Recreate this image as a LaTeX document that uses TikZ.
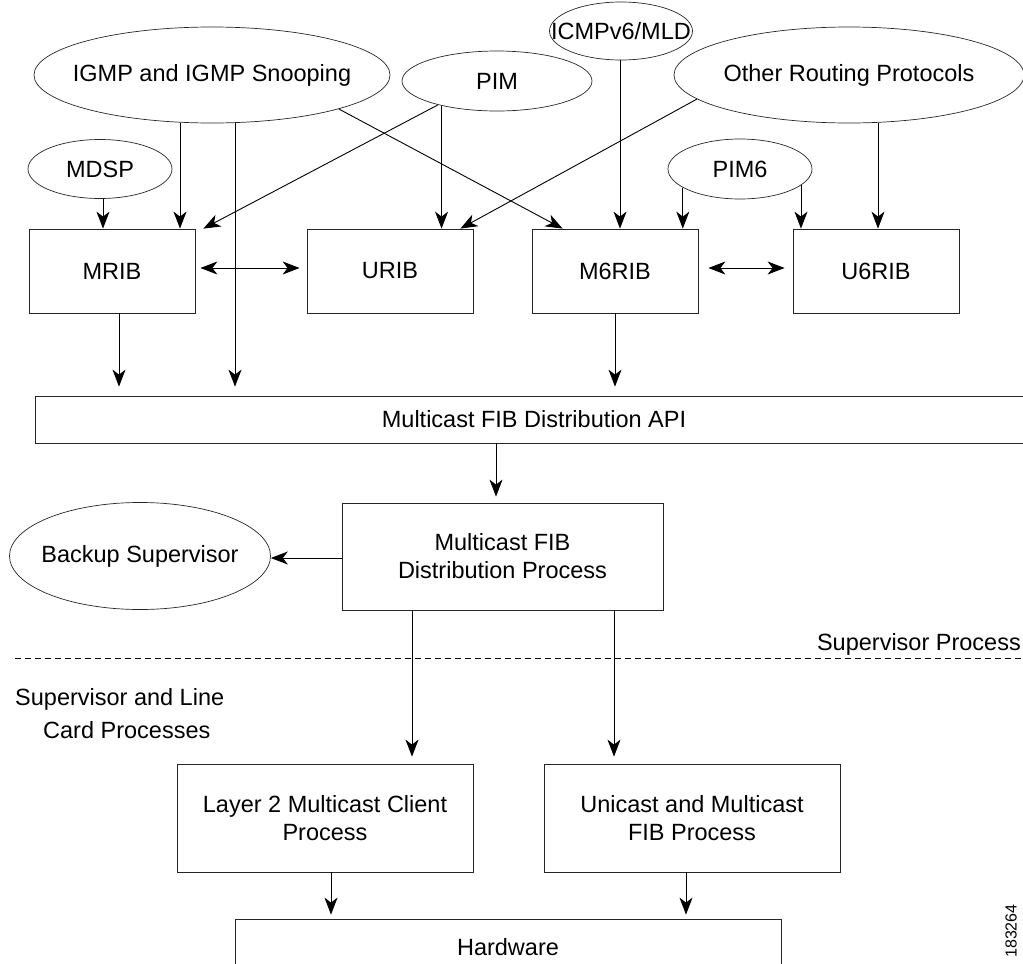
\documentclass[tikz,border=0pt]{standalone}
\usepackage{fontspec}
\setmainfont{Liberation Sans}
\usetikzlibrary{shapes.geometric,arrows.meta,calc}
\begin{document}
\begin{tikzpicture}[x=1pt,y=-1pt,
  font=\fontsize{23.5}{28}\selectfont,
  box/.style={draw=black!85,line width=0.8pt,rectangle,inner sep=0pt,align=center},
  ell/.style={draw=black!85,line width=0.7pt,ellipse,inner sep=0pt},
  tip/.tip={Stealth[length=17pt,width=13pt,inset=5pt]},
  arr/.style={line width=0.9pt,-tip},
  darr/.style={line width=0.9pt,tip-tip},
  lbl/.style={inner sep=0pt}
]
\useasboundingbox (0,0) rectangle (1023,964);

% ellipses
\node[ell,minimum width=356pt,minimum height=96pt] (igmp) at (212,75) {\makebox[0pt]{IGMP and IGMP Snooping}};
\node[ell,minimum width=190pt,minimum height=60pt] (pim) at (497,81) {\makebox[0pt]{PIM}};
\node[ell,minimum width=143pt,minimum height=58pt] (icmp) at (621,31) {\makebox[0pt]{ICMPv6/MLD}};
\node[ell,minimum width=350pt,minimum height=96pt] (other) at (849,75) {\makebox[0pt]{Other Routing Protocols}};
\node[ell,minimum width=144pt,minimum height=59pt] (mdsp) at (100,169) {\makebox[0pt]{MDSP}};
\node[ell,minimum width=144pt,minimum height=60pt] (pimsix) at (740,169) {\makebox[0pt]{PIM6}};
\node[ell,minimum width=261pt,minimum height=107pt] (backup) at (140,556) {\makebox[0pt]{Backup Supervisor}};

% boxes
\node[box,minimum width=166pt,minimum height=84pt] (mrib) at (112,271) {MRIB};
\node[box,minimum width=166pt,minimum height=84pt] (urib) at (390,271) {URIB};
\node[box,minimum width=166pt,minimum height=84pt] (msixrib) at (615,271) {M6RIB};
\node[box,minimum width=166pt,minimum height=84pt] (usixrib) at (876,271) {U6RIB};
\node[box,minimum width=998pt,minimum height=47pt] (api) at (534,419.5) {Multicast FIB Distribution API};
\node[box,minimum width=321pt,minimum height=107pt] (proc) at (502.5,556.5) {Multicast FIB\\Distribution Process};
\node[box,minimum width=296pt,minimum height=108pt] (ltwo) at (325,818) {Layer 2 Multicast Client\\Process};
\node[box,minimum width=296pt,minimum height=108pt] (ufib) at (692,818) {Unicast and Multicast\\FIB Process};
\node[box,minimum width=546pt,minimum height=56pt] (hw) at (508,947) {Hardware};

% labels
\node[lbl,anchor=base east] (supproc) at (1021,650) {Supervisor Process};
\node[lbl,anchor=base west] (supline) at (15,705) {Supervisor and Line};
\node[lbl,anchor=base west] (cardproc) at (43,738) {Card Processes};
\node[lbl,rotate=90,font=\fontsize{16}{18}\selectfont] (figid) at (1011,931) {183264};

% dashed separator
\coordinate (dl) at (15,658);
\coordinate (dr) at (1023,658);
\draw[line width=0.8pt,dash pattern=on 6pt off 4pt] (dl) -- (dr);

% arrows into MRIB
\draw[arr] ([xshift=3pt]mdsp.south) -- ([xshift=3pt]mdsp.south |- mrib.north);
\draw[arr] ([xshift=-32pt]igmp.south) -- ([xshift=-32pt]igmp.south |- mrib.north);
\draw[arr] (pim.202) -- ([xshift=8pt]mrib.north east);
% IGMP straight to API
\draw[arr,shorten >=9pt] ([xshift=23pt]igmp.south) -- ([xshift=23pt]igmp.south |- api.north);
% into URIB
\draw[arr] (pim.204.6) -- (pim.204.6 |- urib.north);
\draw[arr] (other.189.65) -- ([xshift=-13pt]urib.north east);
% into M6RIB
\draw[arr] (igmp.-15.5) -- ([xshift=31pt]msixrib.north west);
\draw[arr] ([xshift=-1pt]icmp.south) -- ([xshift=-1pt]icmp.south |- msixrib.north);
\draw[arr] (pimsix.198.6) -- (pimsix.198.6 |- msixrib.north);
% into U6RIB
\draw[arr] (pimsix.-15.5) -- (pimsix.-15.5 |- usixrib.north);
\draw[arr] ([xshift=29pt]other.south) -- ([xshift=29pt]other.south |- usixrib.north);
% bidirectional
\draw[darr,shorten <=5pt,shorten >=7pt] ([yshift=3pt]mrib.east) -- ([yshift=3pt]urib.west);
\draw[darr,shorten <=10pt,shorten >=8pt] ([yshift=3pt]msixrib.east) -- ([yshift=3pt]usixrib.west);
% down to API
\draw[arr,shorten >=9pt] ([xshift=7pt]mrib.south) -- ([xshift=7pt]mrib.south |- api.north);
\draw[arr,shorten >=9pt] (msixrib.south) -- (msixrib.south |- api.north);
% API to process
\draw[arr,shorten >=6pt] ([xshift=-6.5pt]proc.north |- api.south) -- ([xshift=-6.5pt]proc.north);
% process to backup
\draw[arr] ([yshift=-1.5pt]proc.west) -- ([yshift=-1.5pt]proc.west -| backup.east);
% process down
\draw[arr,shorten >=7pt] ([xshift=-90.5pt]proc.south) -- ([xshift=-90.5pt]proc.south |- ltwo.north);
\draw[arr,shorten >=7pt] ([xshift=111.5pt]proc.south) -- ([xshift=111.5pt]proc.south |- ufib.north);
% to hardware
\draw[arr,shorten >=4pt] ([xshift=6pt]ltwo.south) -- ([xshift=6pt]ltwo.south |- hw.north);
\draw[arr,shorten >=4pt] ([xshift=-6pt]ufib.south) -- ([xshift=-6pt]ufib.south |- hw.north);
\end{tikzpicture}
\end{document}
